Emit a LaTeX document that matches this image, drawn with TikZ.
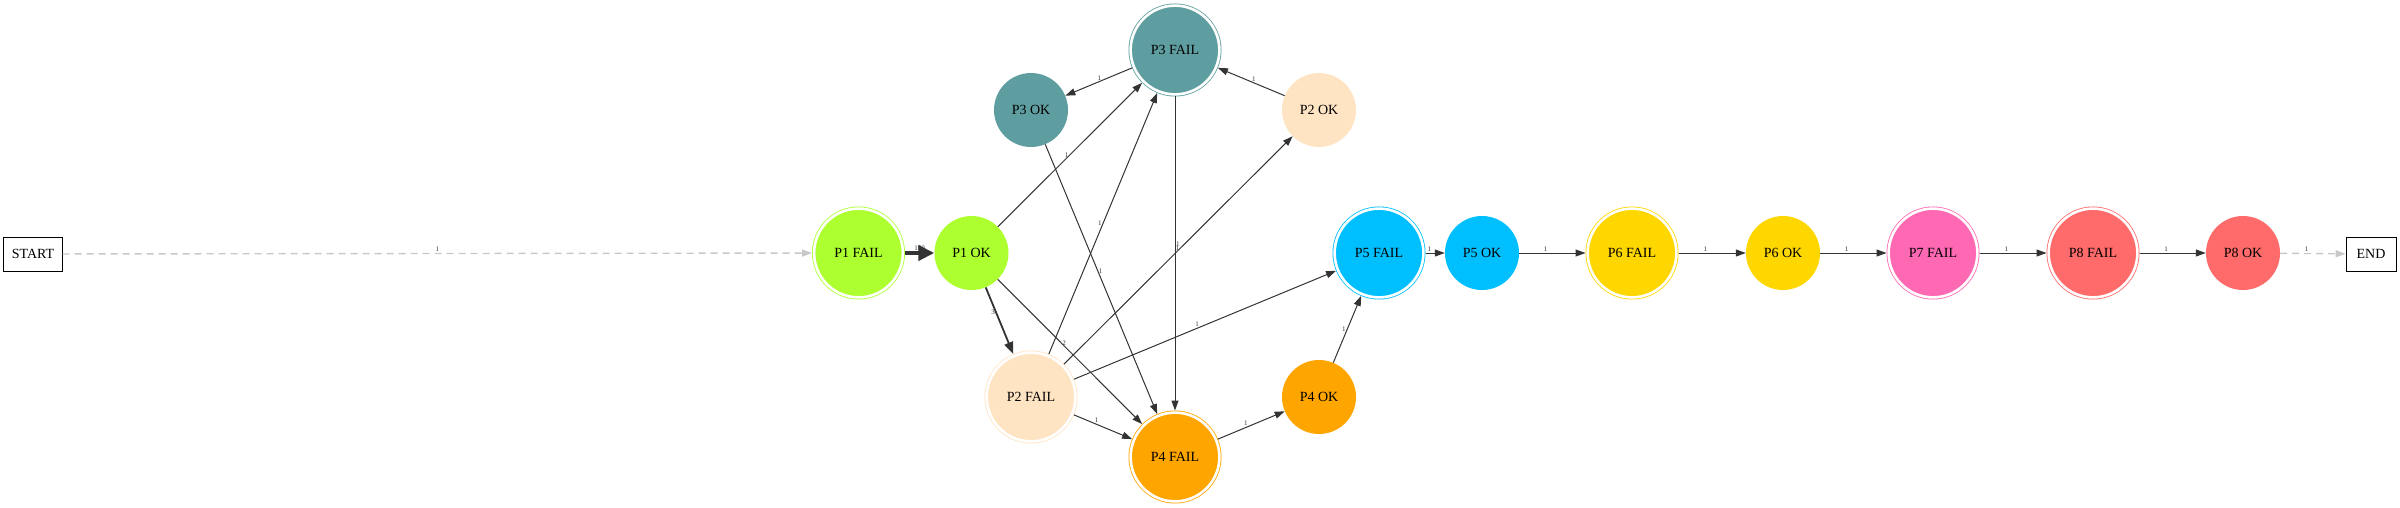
\documentclass[tikz,border=0pt]{standalone}
\usepackage{fontspec}
\setmainfont{Liberation Serif}
\usetikzlibrary{arrows.meta}

\definecolor{pgreen}{HTML}{ADFF2F}
\definecolor{pteal}{HTML}{5F9EA0}
\definecolor{pbisque}{HTML}{FFE4C4}
\definecolor{porange}{HTML}{FFA500}
\definecolor{psky}{HTML}{00BFFF}
\definecolor{pgold}{HTML}{FFD700}
\definecolor{ppink}{HTML}{FF69B4}
\definecolor{pred}{HTML}{FF6A6A}
\definecolor{edgegray}{HTML}{333333}
\definecolor{dashgray}{HTML}{C8C8C8}

\begin{document}
\begin{tikzpicture}[x=1pt, y=-1pt,
    okstate/.style={circle, fill=#1, minimum size=74pt, inner sep=0pt, font=\fontsize{14}{16}\selectfont},
    failstate/.style={circle, fill=#1, draw=#1, double=white, double distance=2.6pt, line width=0.8pt,
        minimum size=88.8pt, inner sep=0pt, outer sep=2.1pt, font=\fontsize{14}{16}\selectfont},
    endbox/.style={rectangle, draw=black, line width=0.8pt, minimum height=34pt, inner sep=0pt, font=\fontsize{14}{16}\selectfont},
    trans/.style={edgegray, line width=1pt, -{Triangle[length=10pt,width=7pt]}},
    ghost/.style={dashgray, line width=1.4pt, dash pattern=on 7pt off 5pt, -{Triangle[length=10pt,width=7pt]}},
    cnt/.style={font=\fontsize{7}{8}\selectfont, text=edgegray, inner sep=1pt},
]
    \useasboundingbox (0,0) rectangle (2400,508);

    % start and end
    \node[endbox, minimum width=58.5pt] (start) at (33,254) {START};
    \node[endbox, minimum width=50pt] (end) at (2371,254) {END};

    % states
    \node[failstate=pgreen] (p1fail) at (858.5,253) {P1 FAIL};
    \node[okstate=pgreen] (p1ok) at (971.5,253) {P1 OK};
    \node[failstate=pteal] (p3fail) at (1175,50) {P3 FAIL};
    \node[okstate=pteal] (p3ok) at (1031,110) {P3 OK};
    \node[okstate=pbisque] (p2ok) at (1319,110) {P2 OK};
    \node[failstate=pbisque] (p2fail) at (1031,397) {P2 FAIL};
    \node[failstate=porange] (p4fail) at (1175,457) {P4 FAIL};
    \node[okstate=porange] (p4ok) at (1319,397) {P4 OK};
    \node[failstate=psky] (p5fail) at (1379,253) {P5 FAIL};
    \node[okstate=psky] (p5ok) at (1482,253) {P5 OK};
    \node[failstate=pgold] (p6fail) at (1632,253) {P6 FAIL};
    \node[okstate=pgold] (p6ok) at (1783,253) {P6 OK};
    \node[failstate=ppink] (p7fail) at (1933,253) {P7 FAIL};
    \node[failstate=pred] (p8fail) at (2093,253) {P8 FAIL};
    \node[okstate=pred] (p8ok) at (2243,253) {P8 OK};

    % transitions
    \draw[ghost] (start) -- node[cnt, above] (c1) {1} (p1fail);
    \draw[trans, line width=4.5pt, -{Triangle[length=16pt,width=15pt]}] (p1fail) -- node[cnt, above, inner sep=0pt] (c2) {180} (p1ok);
    \draw[trans] (p1ok) -- node[cnt, left] (c3) {1} (p3fail);
    \draw[trans, line width=1.8pt, -{Triangle[length=12pt,width=9pt]}] (p1ok) -- node[cnt, pos=0.38, left, inner sep=0.5pt] (c4) {3} (p2fail);
    \draw[trans] (p1ok) -- node[cnt, pos=0.44, right, inner sep=0.5pt] (c5) {2} (p4fail);
    \draw[trans] (p3fail) -- node[cnt, pos=0.49, above] (c6) {1} (p3ok);
    \draw[trans] (p2ok) -- node[cnt, pos=0.46, above] (c7) {1} (p3fail);
    \draw[trans] (p3ok) -- node[cnt, pos=0.47, right, inner sep=0.5pt] (c8) {1} (p4fail);
    \draw[trans] (p3fail) -- node[cnt, pos=0.47, right, inner sep=0.5pt] (c9) {1} (p4fail);
    \draw[trans] (p2fail) -- node[cnt, left] (c10) {1} (p3fail);
    \draw[trans] (p2fail) -- node[cnt, pos=0.51, left] (c11) {1} (p2ok);
    \draw[trans] (p2fail) -- node[cnt, pos=0.47, above] (c12) {1} (p5fail);
    \draw[trans] (p2fail) -- node[cnt, pos=0.39, above] (c13) {1} (p4fail);
    \draw[trans] (p4fail) -- node[cnt, pos=0.42, above] (c14) {1} (p4ok);
    \draw[trans] (p4ok) -- node[cnt, left] (c15) {1} (p5fail);
    \draw[trans] (p5fail) -- node[cnt, pos=0.2, above] (c16) {1} (p5ok);
    \draw[trans] (p5ok) -- node[cnt, pos=0.4, above] (c17) {1} (p6fail);
    \draw[trans] (p6fail) -- node[cnt, pos=0.4, above] (c18) {1} (p6ok);
    \draw[trans] (p6ok) -- node[cnt, pos=0.4, above] (c19) {1} (p7fail);
    \draw[trans] (p7fail) -- node[cnt, pos=0.4, above] (c20) {1} (p8fail);
    \draw[trans] (p8fail) -- node[cnt, pos=0.4, above] (c21) {1} (p8ok);
    \draw[ghost] (p8ok) -- node[cnt, pos=0.4, above] (c22) {1} (end);
\end{tikzpicture}
\end{document}
